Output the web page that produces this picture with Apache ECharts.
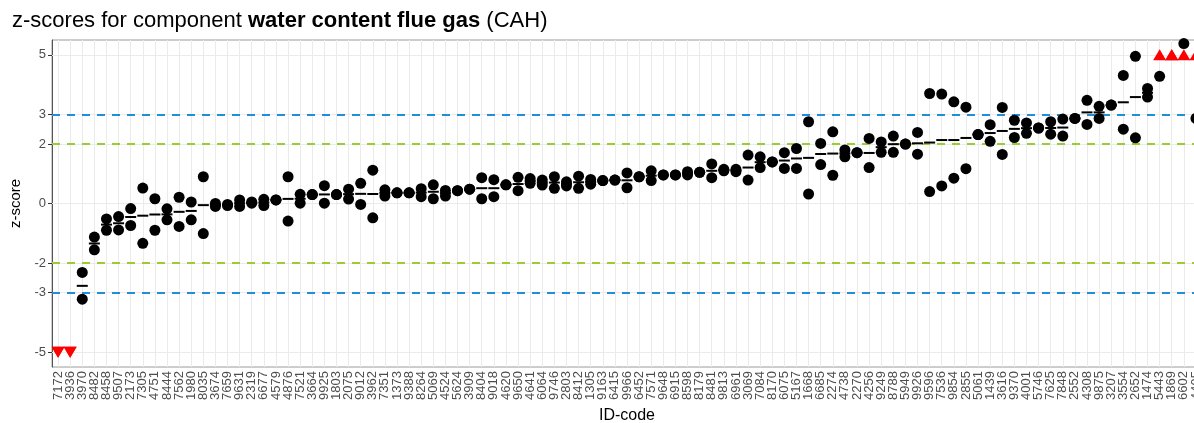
<!DOCTYPE html>
<html>
<head>
<meta charset="utf-8">
<script src="https://cdn.jsdelivr.net/npm/echarts@6/dist/echarts.min.js"></script>
<style>
  html, body { margin: 0; padding: 0; background: #fff; }
  #chart { width: 1194px; height: 423px; }
</style>
</head>
<body>
<div id="chart"></div>
<script>
// lab ID-codes, in plotted order
var ids = ['7172','3936','3970','8482','8458','9507','2173','7305','4751','8444',
  '7562','1980','8035','3674','7659','9631','2319','6677','4579','4876',
  '7521','3664','9925','1803','2075','9012','3962','7351','1373','9388',
  '8264','5069','4524','5624','3909','8404','9018','4620','9650','4641',
  '6064','9746','2803','8412','1305','9163','6415','9966','6452','7571',
  '9648','6915','8598','8179','8481','9813','6961','3069','7084','8170',
  '6075','5167','1668','6685','2274','4738','2270','4256','9249','8788',
  '5949','9926','9596','7536','9854','2855','5061','1439','3616','9370',
  '4001','5746','7625','7848','2552','4308','9875','3207','3554','2652',
  '1474','5443','1869','6602','4495'];

// z-score of replicate 1 and 2 (values beyond +-5.5 are off the panel)
var rep1 = [-8, -8, -2.32, -1.13, -0.52, -0.44, -0.17, 0.52, 0.16, -0.18,
  0.21, 0.05, 0.90, 0.00, -0.03, 0.12, 0.05, 0.14, 0.12, 0.90,
  0.31, 0.30, 0.60, 0.30, 0.48, 0.68, 1.12, 0.46, 0.36, 0.36,
  0.50, 0.63, 0.44, 0.43, 0.48, 0.87, 0.80, 0.63, 0.88, 0.84,
  0.79, 0.90, 0.73, 0.92, 0.81, 0.77, 0.79, 1.03, 0.90, 1.10,
  0.96, 0.96, 1.07, 1.05, 1.33, 1.15, 1.15, 1.63, 1.57, 1.40,
  1.71, 1.85, 2.75, 2.02, 2.41, 1.80, 1.71, 2.19, 2.07, 2.27,
  2.00, 2.39, 3.70, 3.68, 3.42, 3.24, 2.32, 2.65, 3.23, 2.80,
  2.71, 2.54, 2.75, 2.84, 2.86, 3.47, 3.27, 3.31, 4.31, 4.95,
  3.87, 8.0, 8.0, 7.0, 9.0];
var rep2 = [-8, -6, -3.22, -1.56, -0.90, -0.89, -0.74, -1.34, -0.90, -0.55,
  -0.77, -0.55, -1.01, -0.10, -0.07, -0.10, 0.01, -0.07, 0.12, -0.59,
  0.01, 0.30, 0.01, 0.30, 0.15, -0.03, -0.48, 0.25, 0.36, 0.36,
  0.23, 0.16, 0.25, 0.43, 0.48, 0.16, 0.23, 0.63, 0.43, 0.68,
  0.62, 0.51, 0.59, 0.51, 0.65, 0.77, 0.79, 0.53, 0.90, 0.77,
  0.96, 0.96, 0.96, 1.05, 0.87, 1.10, 1.07, 0.79, 1.21, 1.40,
  1.18, 1.18, 0.32, 1.31, 0.95, 1.57, 1.71, 1.21, 1.72, 1.72,
  2.00, 1.66, 0.40, 0.59, 0.85, 1.17, 2.32, 2.09, 1.65, 2.22,
  2.36, 2.54, 2.33, 2.27, 2.86, 2.66, 2.86, 3.31, 2.50, 2.21,
  3.58, 4.28, 8.0, 5.38, 2.86];

// y-axis breaks and limit lines
var yTicks = [-5, -3, -2, 0, 2, 3, 5];
var warnLimit = 2;
var actionLimit = 3;

var LIM = 5.5;
var dots = [], means = [], upTri = [], downTri = [];
ids.forEach(function (id, i) {
  [rep1[i], rep2[i]].forEach(function (v) {
    if (v > LIM) upTri.push([i, 5]);
    else if (v < -LIM) downTri.push([i, -5]);
    else dots.push([i, v]);
  });
  var m = (rep1[i] + rep2[i]) / 2;
  if (Math.abs(m) <= LIM) means.push([i, m]);
});

var chart = echarts.init(document.getElementById('chart'));
var font = 'Liberation Sans, Arial, sans-serif';

chart.setOption({
  animation: false,
  textStyle: { fontFamily: font },
  title: {
    left: 7,
    top: 5,
    text: '{n|z-scores for component }{b|water content flue gas}{n| (CAH)}',
    textStyle: {
      fontWeight: 'normal',
      rich: {
        n: { fontSize: 22, color: '#000', fontWeight: 'normal', fontFamily: font },
        b: { fontSize: 22, color: '#000', fontWeight: 'bold', fontFamily: font }
      }
    }
  },
  grid: {
    left: 52,
    top: 40,
    right: -8,
    bottom: 56,
    containLabel: false,
    outerBoundsMode: 'none',
    show: true,
    borderColor: '#9a9a9a',
    borderWidth: 1,
    backgroundColor: '#fff'
  },
  xAxis: {
    type: 'category',
    data: ids,
    boundaryGap: true,
    name: 'ID-code',
    nameLocation: 'middle',
    nameGap: 41,
    nameTextStyle: { fontSize: 16, color: '#000' },
    axisLine: { lineStyle: { color: '#555', width: 1 } },
    axisTick: { alignWithLabel: true, length: 4, lineStyle: { color: '#333' } },
    axisLabel: { rotate: 90, interval: 0, fontSize: 13, color: '#4d4d4d', margin: 4 },
    splitLine: { show: false }
  },
  yAxis: {
    type: 'value',
    min: -LIM,
    max: LIM,
    name: 'z-score',
    nameLocation: 'middle',
    nameGap: 21,
    nameTextStyle: { fontSize: 15, color: '#000' },
    axisLine: { show: true, lineStyle: { color: '#555', width: 1 } },
    axisTick: { show: true, length: 4, customValues: yTicks, lineStyle: { color: '#333' } },
    axisLabel: { fontSize: 13, color: '#4d4d4d', margin: 6, customValues: yTicks },
    splitLine: { show: false }
  },
  series: [
    {
      // panel grid lines (ggplot style)
      type: 'scatter',
      data: [],
      silent: true,
      z: 1,
      markLine: {
        z: 1,
        silent: true,
        symbol: ['none', 'none'],
        label: { show: false },
        animation: false,
        lineStyle: { color: '#ebebeb', width: 1, type: 'solid' },
        data: ids.map(function (id, i) { return { xAxis: i }; })
          .concat(yTicks.map(function (t) { return { yAxis: t }; }))
      }
    },
    {
      // warning / action limits
      type: 'scatter',
      data: [],
      silent: true,
      z: 2,
      markLine: {
        z: 2,
        silent: true,
        symbol: ['none', 'none'],
        label: { show: false },
        animation: false,
        data: [
          { yAxis: actionLimit, lineStyle: { color: '#1e8fd8', width: 1.8, type: [8, 7] } },
          { yAxis: -actionLimit, lineStyle: { color: '#1e8fd8', width: 1.8, type: [8, 7] } },
          { yAxis: warnLimit, lineStyle: { color: '#9acd32', width: 1.8, type: [8, 7] } },
          { yAxis: -warnLimit, lineStyle: { color: '#9acd32', width: 1.8, type: [8, 7] } }
        ]
      }
    },
    {
      name: 'replicate',
      type: 'scatter',
      z: 4,
      symbol: 'circle',
      symbolSize: 11,
      itemStyle: { color: '#000', opacity: 1 },
      data: dots
    },
    {
      name: 'mean',
      type: 'scatter',
      z: 3,
      symbol: 'rect',
      symbolSize: [11, 2],
      itemStyle: { color: '#000', opacity: 1 },
      data: means
    },
    {
      name: 'above',
      type: 'scatter',
      z: 5,
      symbol: 'triangle',
      symbolSize: [13, 11],
      itemStyle: { color: '#ff0000', opacity: 1 },
      data: upTri
    },
    {
      name: 'below',
      type: 'scatter',
      z: 5,
      symbol: 'triangle',
      symbolRotate: 180,
      symbolSize: [13, 11],
      itemStyle: { color: '#ff0000', opacity: 1 },
      data: downTri
    }
  ]
});
</script>
</body>
</html>
